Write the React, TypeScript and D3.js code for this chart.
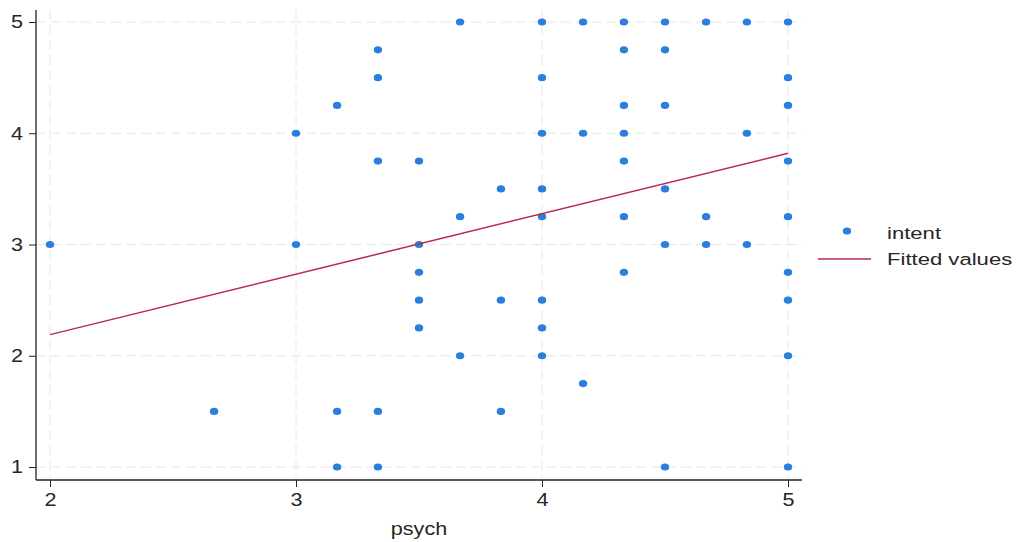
import React, { useRef, useEffect } from 'react';
import * as d3 from 'd3';

// psych values of each column of points, and the intent values in that column
const psychLevels = [2, 2.667, 3, 3.167, 3.333, 3.5, 3.667, 3.833, 4, 4.167, 4.333, 4.5, 4.667, 4.833, 5];
const intentByLevel = [
  [3],
  [1.5],
  [4, 3],
  [4.25, 1.5, 1],
  [4.75, 4.5, 3.75, 1.5, 1],
  [3.75, 3, 2.75, 2.5, 2.25],
  [5, 3.25, 2],
  [3.5, 2.5, 1.5],
  [5, 4.5, 4, 3.5, 3.25, 2.5, 2.25, 2],
  [5, 4, 1.75],
  [5, 4.75, 4.25, 4, 3.75, 3.25, 2.75],
  [5, 4.75, 4.25, 3.5, 3, 1],
  [5, 3.25, 3],
  [5, 4, 3],
  [5, 4.5, 4.25, 3.75, 3.25, 2.75, 2.5, 2, 1],
];

// fitted line end points
const fitX = [2, 5];
const fitY = [2.19, 3.82];

const xTicks = [2, 3, 4, 5];
const yTicks = [1, 2, 3, 4, 5];

const App = () => {
  const ref = useRef<SVGSVGElement>(null);
  const width = 1016;
  const height = 542;

  useEffect(() => {
    const svg = d3.select(ref.current);
    svg.selectAll('*').remove();

    const font = 'Liberation Sans, Arial, sans-serif';
    const dotColor = '#2b7fdc';
    const lineColor = '#b8275b';
    const textColor = '#262626';

    const x = d3.scaleLinear().domain([2, 5]).range([50, 788]);
    const y = d3.scaleLinear().domain([1, 5]).range([467, 22]);

    const points = psychLevels.flatMap((p, i) => intentByLevel[i].map(v => ({ psych: p, intent: v })));

    svg.append('rect').attr('width', width).attr('height', height).attr('fill', '#fff');

    // grid
    const grid = svg.append('g').attr('stroke', '#e6e6e6').attr('stroke-dasharray', '10,5').attr('stroke-width', 1);
    yTicks.forEach(t => {
      grid.append('line').attr('x1', 36).attr('x2', 802).attr('y1', y(t)).attr('y2', y(t));
    });
    xTicks.forEach(t => {
      grid.append('line').attr('x1', x(t)).attr('x2', x(t)).attr('y1', 10).attr('y2', 480);
    });

    // axes (text is a bit wider than tall in the original, hence the x scale)
    const yAxis = svg.append('g')
      .attr('transform', 'translate(36,0)')
      .call(d3.axisLeft(y).tickValues(yTicks).tickSize(7).tickFormat(d3.format('d')));
    yAxis.select('.domain').attr('d', 'M0,10V480').attr('stroke', '#222').attr('stroke-width', 1.3);
    yAxis.selectAll('.tick line').attr('stroke', '#222');
    yAxis.selectAll('.tick text')
      .attr('x', null)
      .attr('transform', 'translate(-13,0) scale(1.2,1)')
      .attr('font-family', font).attr('font-size', 18).attr('fill', textColor);

    const xAxis = svg.append('g')
      .attr('transform', 'translate(0,480)')
      .call(d3.axisBottom(x).tickValues(xTicks).tickSize(7).tickFormat(d3.format('d')));
    xAxis.select('.domain').attr('d', 'M36,0H802').attr('stroke', '#222').attr('stroke-width', 1.3);
    xAxis.selectAll('.tick line').attr('stroke', '#222');
    xAxis.selectAll('.tick text')
      .attr('y', null)
      .attr('transform', 'translate(0,13) scale(1.2,1)')
      .attr('font-family', font).attr('font-size', 18).attr('fill', textColor);

    svg.append('text')
      .attr('transform', 'translate(419,535) scale(1.2,1)')
      .attr('text-anchor', 'middle')
      .attr('font-family', font).attr('font-size', 18).attr('fill', textColor)
      .text('psych');

    // points
    svg.append('g')
      .selectAll('ellipse')
      .data(points)
      .enter()
      .append('ellipse')
      .attr('cx', d => x(d.psych))
      .attr('cy', d => y(d.intent))
      .attr('rx', 4.2)
      .attr('ry', 3.6)
      .attr('fill', dotColor);

    // fitted line
    svg.append('path')
      .datum(fitX.map((v, i) => [v, fitY[i]] as [number, number]))
      .attr('d', d3.line<[number, number]>().x(d => x(d[0])).y(d => y(d[1])))
      .attr('fill', 'none')
      .attr('stroke', lineColor)
      .attr('stroke-width', 1.5);

    // legend
    const legend = svg.append('g').attr('font-family', font).attr('font-size', 17).attr('fill', textColor);
    legend.append('ellipse').attr('cx', 847).attr('cy', 231).attr('rx', 4.2).attr('ry', 3.6).attr('fill', dotColor);
    legend.append('text').attr('transform', 'translate(887,239) scale(1.3,1)').text('intent');
    legend.append('line').attr('x1', 818).attr('x2', 871).attr('y1', 259).attr('y2', 259)
      .attr('stroke', lineColor).attr('stroke-width', 1.5);
    legend.append('text').attr('transform', 'translate(887,265) scale(1.3,1)').text('Fitted values');
  }, []);

  return (
    <svg ref={ref} width={width} height={height} style={{ position: 'absolute', left: 0, top: 0 }}></svg>
  );
};

export default App;
